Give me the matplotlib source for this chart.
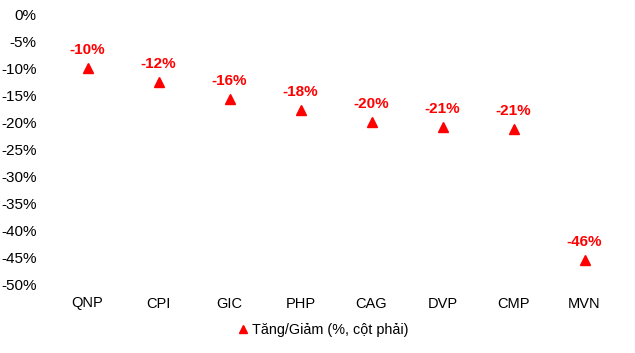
import matplotlib
matplotlib.use("Agg")
import matplotlib.pyplot as plt
from matplotlib.ticker import FuncFormatter

plt.rcParams["font.family"] = ["Liberation Sans", "DejaVu Sans"]

tickers = ["QNP", "CPI", "GIC", "PHP", "CAG", "DVP", "CMP", "MVN"]
change_pct = [-9.8, -12.4, -15.6, -17.7, -19.9, -20.8, -21.2, -45.5]
labels = ["-10%", "-12%", "-16%", "-18%", "-20%", "-21%", "-21%", "-46%"]

red = "#ff0000"

fig = plt.figure(figsize=(6.35, 3.53), dpi=100)
ax = fig.add_axes([52 / 635, 1 - 284 / 353, (620 - 52) / 635, (284 - 15) / 353])

x = range(len(tickers))
ax.plot(x, change_pct, linestyle="none", marker="^", color=red, markersize=7.5,
        label="Tăng/Giảm (%, cột phải)")
for i, (v, t) in enumerate(zip(change_pct, labels)):
    ax.annotate(t, (i, v), xytext=(0, 8), textcoords="offset points",
                ha="center", va="bottom", color=red, fontsize=11, fontweight="bold")

ax.set_xlim(-0.5, len(tickers) - 0.5)
ax.set_ylim(-50, 0)
ax.set_yticks(range(-50, 1, 5))
ax.yaxis.set_major_formatter(FuncFormatter(lambda v, _: f"{v:.0f}%"))
ax.set_xticks(list(x))
ax.set_xticklabels(tickers)
ax.tick_params(length=0, colors="black")
ax.tick_params(axis="x", pad=9, labelsize=10.5)
ax.tick_params(axis="y", pad=11, labelsize=11)
for s in ax.spines.values():
    s.set_visible(False)

fig.legend(loc="center", bbox_to_anchor=(322 / 635, 1 - 330 / 353), frameon=False,
           fontsize=10.4, handletextpad=0.1, handlelength=1.0, markerscale=0.8)

fig.savefig("out.png", dpi=100)
